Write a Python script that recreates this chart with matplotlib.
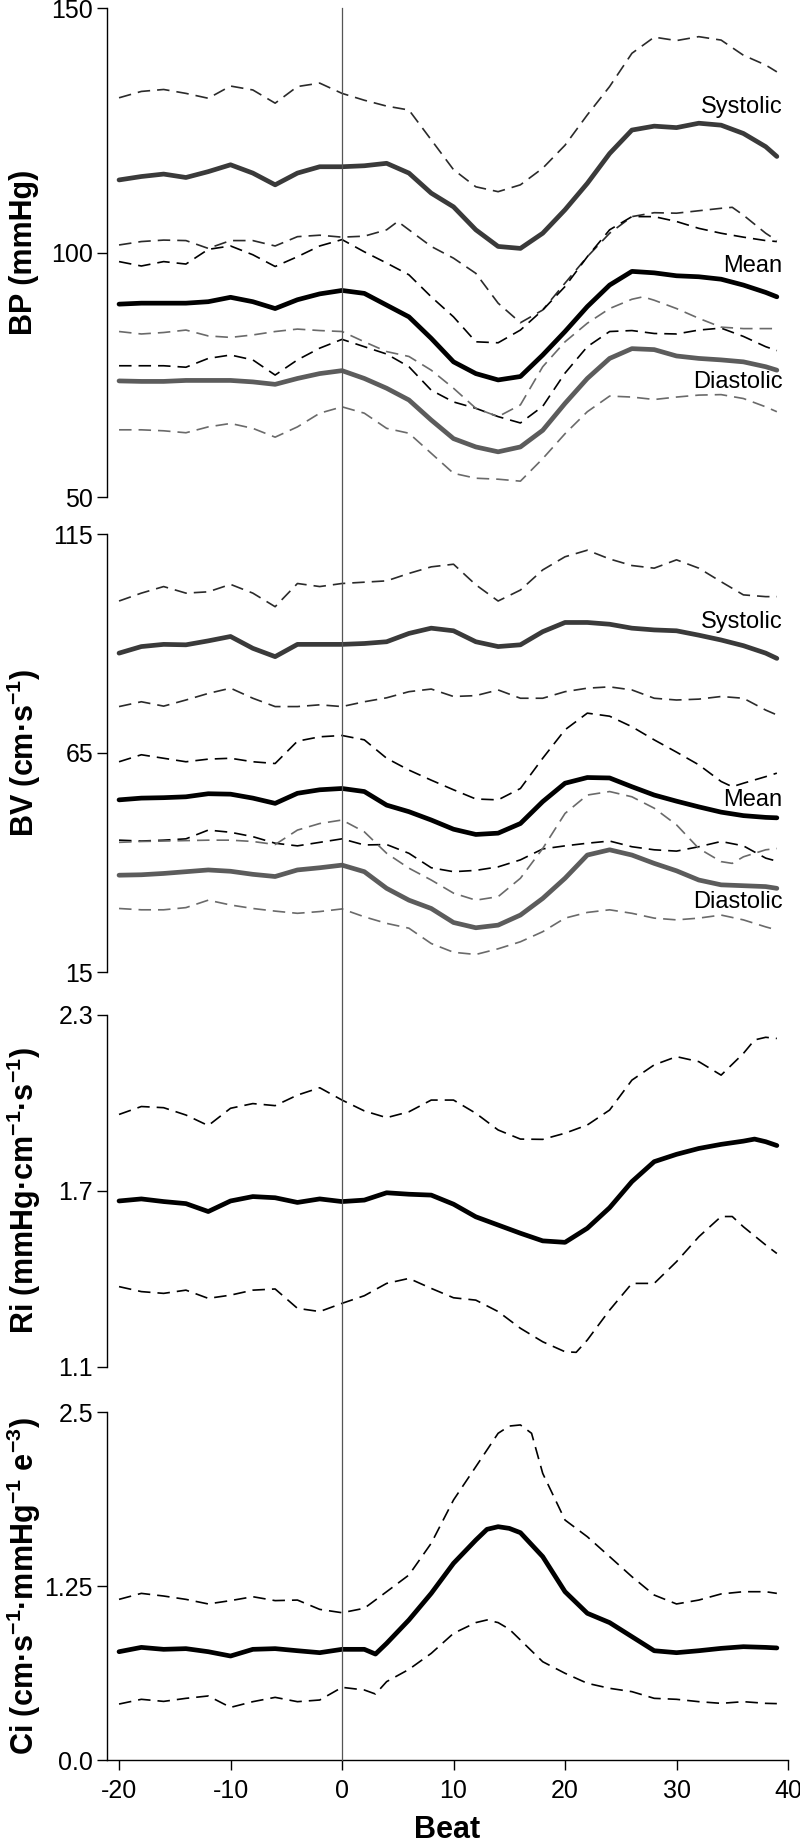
import matplotlib
matplotlib.use("Agg")
import matplotlib.pyplot as plt
from matplotlib.lines import Line2D
from matplotlib.transforms import blended_transform_factory

plt.rcParams['font.family'] = ['Liberation Sans', 'DejaVu Sans']
plt.rcParams['mathtext.default'] = 'regular'

# ---------------- data ----------------
beats = [-20, -18, -16, -14, -12, -10, -8, -6, -4, -2, 0, 2, 4, 6, 8, 10,
         12, 14, 16, 18, 20, 22, 24, 26, 28, 30, 32, 34, 36, 38, 39]

# Blood pressure (mmHg)
bp_sys = [114.9, 115.6, 116.1, 115.4, 116.6, 118.0, 116.3, 113.9, 116.3, 117.6, 117.6, 117.8, 118.3, 116.3, 112.2, 109.4,
          104.7, 101.3, 100.9, 104.0, 108.8, 114.2, 120.3, 125.1, 125.9, 125.6, 126.5, 126.1, 124.4, 121.7, 119.7]
bp_sys_hi = [131.7, 133.0, 133.4, 132.6, 131.6, 134.1, 133.3, 130.6, 134.0, 134.7, 132.6, 131.2, 130.0, 129.2, 123.1, 117.0,
             113.5, 112.5, 113.9, 117.3, 122.0, 128.2, 134.0, 140.8, 144.1, 143.4, 144.2, 143.5, 140.4, 138.4, 137.0]
bp_sys_lo_beats = [-20, -18, -16, -14, -12, -10, -8, -6, -4, -2, 0, 2, 4, 5, 6, 8, 10,
                   12, 14, 16, 18, 20, 22, 24, 26, 28, 30, 32, 34, 35, 36, 38, 39]
bp_sys_lo = [101.6, 102.3, 102.6, 102.5, 100.9, 102.5, 102.5, 101.4, 103.3, 103.6, 103.2, 103.4, 104.7, 106.4, 104.7, 101.3, 98.9,
             95.8, 89.7, 85.7, 88.3, 93.8, 99.2, 104.0, 107.4, 108.2, 108.1, 108.6, 109.1, 109.3, 107.7, 104.0, 102.5]
bp_mean = [89.5, 89.7, 89.7, 89.7, 90.0, 90.9, 90.0, 88.6, 90.4, 91.6, 92.3, 91.7, 89.3, 86.9, 82.5, 77.7,
           75.3, 74.0, 74.7, 79.1, 83.9, 89.0, 93.4, 96.2, 95.9, 95.3, 95.1, 94.6, 93.4, 91.9, 91.0]
bp_mean_hi = [98.2, 97.3, 98.2, 97.7, 100.7, 101.4, 99.6, 97.2, 99.2, 101.4, 102.7, 100.2, 97.9, 95.5, 91.0, 86.9,
              81.8, 81.6, 84.2, 88.3, 93.1, 99.2, 104.7, 107.4, 107.4, 106.4, 105.0, 104.0, 103.2, 102.5, 102.3]
bp_mean_lo = [76.9, 76.9, 76.9, 76.6, 78.4, 79.1, 78.1, 75.0, 78.1, 80.5, 82.3, 80.8, 79.3, 76.7, 71.9, 69.5,
              68.2, 66.5, 65.2, 68.6, 75.4, 80.8, 83.9, 84.1, 83.5, 83.4, 84.2, 84.6, 82.9, 80.8, 80.0]
bp_dia = [73.8, 73.7, 73.7, 73.9, 73.9, 73.9, 73.6, 73.1, 74.3, 75.3, 75.9, 74.3, 72.3, 69.9, 65.8, 62.0,
          60.3, 59.3, 60.3, 63.7, 69.2, 74.3, 78.4, 80.4, 80.2, 78.9, 78.4, 78.1, 77.7, 76.7, 76.0]
bp_dia_hi_beats = [-20, -18, -16, -14, -12, -10, -8, -6, -4, -2, 0, 2, 4, 6, 8, 10,
                   12, 14, 16, 18, 20, 22, 24, 26, 27, 28, 30, 32, 34, 36, 38, 39]
bp_dia_hi = [83.9, 83.4, 83.7, 84.2, 83.0, 82.7, 83.2, 83.9, 84.4, 84.1, 83.9, 81.8, 79.8, 78.8, 76.0, 72.3,
             68.2, 66.5, 68.9, 76.7, 81.8, 85.6, 88.6, 90.5, 91.0, 90.3, 88.6, 86.6, 84.8, 84.5, 84.5, 84.5]
bp_dia_lo = [63.8, 63.8, 63.6, 63.2, 64.4, 65.1, 64.1, 62.3, 64.4, 67.2, 68.5, 67.2, 64.1, 63.1, 59.0, 54.9,
             53.9, 53.7, 53.3, 57.9, 63.0, 67.5, 70.7, 70.5, 70.0, 70.5, 70.9, 71.0, 70.2, 68.5, 67.5]

# Blood velocity (cm/s)
bv_sys = [87.8, 89.3, 89.8, 89.7, 90.6, 91.6, 88.9, 87.0, 89.8, 89.8, 89.8, 90.0, 90.4, 92.3, 93.5, 92.9,
          90.4, 89.3, 89.7, 92.7, 94.8, 94.8, 94.4, 93.5, 93.1, 92.9, 91.9, 90.8, 89.5, 87.8, 86.6]
bv_sys_hi = [99.7, 101.5, 103.0, 101.5, 101.8, 103.5, 101.5, 98.4, 103.7, 103.0, 103.7, 104.0, 104.3, 106.0, 107.5, 108.1,
             103.4, 99.7, 102.2, 106.8, 109.8, 111.3, 109.3, 107.8, 107.2, 109.1, 107.2, 104.1, 101.1, 100.7, 100.7]
bv_sys_lo = [75.6, 76.7, 75.7, 77.1, 78.6, 79.8, 77.5, 75.6, 75.6, 76.0, 75.6, 76.7, 77.6, 79.0, 79.6, 77.9,
             78.1, 79.4, 77.5, 77.5, 79.0, 79.8, 80.1, 79.4, 77.5, 77.1, 77.3, 77.9, 77.5, 74.8, 73.7]
bv_mean = [54.3, 54.7, 54.8, 55.0, 55.7, 55.6, 54.7, 53.5, 55.8, 56.6, 56.9, 56.2, 53.1, 51.6, 49.7, 47.6,
           46.4, 46.7, 48.9, 53.9, 58.1, 59.4, 59.3, 57.3, 55.4, 54.0, 52.7, 51.5, 50.7, 50.3, 50.2]
bv_mean_hi_beats = [-20, -18, -16, -14, -12, -10, -8, -6, -4, -2, 0, 2, 4, 6, 8, 10,
                    12, 14, 16, 18, 20, 22, 24, 26, 28, 30, 32, 34, 35, 36, 38, 39]
bv_mean_hi = [63.0, 64.6, 63.8, 63.0, 63.6, 63.8, 63.0, 62.6, 67.7, 68.7, 69.0, 68.0, 63.8, 61.1, 58.8, 56.6,
              54.5, 54.3, 56.9, 63.8, 70.3, 74.1, 73.4, 71.0, 68.0, 65.2, 62.3, 58.5, 57.3, 58.1, 59.6, 60.4]
bv_mean_lo = [45.1, 44.9, 45.1, 45.4, 47.4, 46.9, 45.9, 44.4, 43.8, 44.6, 45.4, 44.0, 44.1, 42.1, 38.8, 37.9,
              38.2, 39.0, 40.6, 43.1, 43.8, 44.4, 44.9, 43.6, 42.9, 42.6, 43.6, 44.8, 43.8, 41.0, 40.3]
bv_dia = [37.1, 37.2, 37.5, 37.9, 38.3, 38.0, 37.3, 36.8, 38.3, 38.8, 39.4, 37.9, 34.1, 31.4, 29.5, 26.3,
          25.1, 25.7, 28.0, 31.8, 36.4, 41.7, 42.9, 41.7, 39.8, 38.1, 36.0, 34.9, 34.7, 34.5, 34.1]
bv_dia_hi_beats = bv_mean_hi_beats
bv_dia_hi = [44.6, 44.8, 44.9, 45.0, 45.1, 45.1, 44.8, 44.1, 47.4, 48.9, 49.7, 47.0, 42.1, 38.7, 36.0, 33.0,
             31.4, 32.2, 36.4, 43.2, 51.2, 55.4, 56.2, 55.0, 52.4, 48.6, 43.2, 40.2, 39.8, 41.3, 42.9, 43.2]
bv_dia_lo = [29.5, 29.2, 29.2, 29.7, 31.4, 30.3, 29.5, 28.9, 28.4, 28.8, 29.4, 27.6, 26.1, 25.0, 21.5, 19.5,
             19.0, 20.3, 21.9, 24.2, 27.3, 28.6, 29.2, 28.4, 27.3, 26.9, 27.3, 28.0, 26.9, 25.3, 24.6]

# Resistance index
ri_beats = [-20, -18, -16, -14, -12, -10, -8, -6, -4, -2, 0, 2, 4, 6, 8, 10,
            12, 14, 16, 18, 20, 22, 24, 26, 28, 30, 32, 34, 36, 37, 38, 39]
ri_mean = [1.666, 1.673, 1.664, 1.657, 1.630, 1.666, 1.681, 1.677, 1.661, 1.673, 1.664, 1.669, 1.694, 1.689, 1.686, 1.655,
           1.612, 1.584, 1.556, 1.530, 1.525, 1.573, 1.643, 1.732, 1.800, 1.825, 1.845, 1.859, 1.870, 1.877, 1.868, 1.855]
ri_hi = [1.961, 1.988, 1.984, 1.959, 1.923, 1.982, 1.998, 1.991, 2.027, 2.052, 2.010, 1.973, 1.950, 1.970, 2.010, 2.010,
         1.965, 1.908, 1.877, 1.876, 1.897, 1.925, 1.976, 2.078, 2.130, 2.158, 2.141, 2.095, 2.169, 2.215, 2.224, 2.220]
ri_lo_beats = [-20, -18, -16, -14, -12, -10, -8, -6, -4, -2, 0, 2, 4, 6, 8, 10,
               12, 14, 16, 18, 20, 21, 22, 24, 26, 28, 30, 32, 34, 35, 36, 38, 39]
ri_lo = [1.374, 1.357, 1.351, 1.362, 1.334, 1.345, 1.362, 1.366, 1.300, 1.289, 1.317, 1.343, 1.385, 1.402, 1.368, 1.336,
         1.328, 1.289, 1.232, 1.186, 1.152, 1.150, 1.192, 1.294, 1.385, 1.385, 1.459, 1.544, 1.613, 1.613, 1.578, 1.516, 1.487]

# Compliance index
ci_beats = [-20, -18, -16, -14, -12, -10, -8, -6, -4, -2, 0, 2, 3, 4, 6, 8, 10,
            12, 13, 14, 15, 16, 18, 20, 22, 24, 26, 28, 30, 32, 34, 36, 38, 39]
ci_mean = [0.778, 0.809, 0.795, 0.800, 0.778, 0.747, 0.795, 0.800, 0.785, 0.771, 0.795, 0.795, 0.761, 0.838, 1.006, 1.197, 1.413,
           1.580, 1.657, 1.676, 1.664, 1.633, 1.461, 1.209, 1.054, 0.987, 0.886, 0.785, 0.771, 0.785, 0.802, 0.814, 0.809, 0.805]
ci_lo = [0.402, 0.436, 0.421, 0.443, 0.460, 0.378, 0.419, 0.450, 0.419, 0.431, 0.522, 0.503, 0.474, 0.563, 0.651, 0.766, 0.910,
         0.987, 1.006, 0.987, 0.940, 0.862, 0.706, 0.623, 0.551, 0.515, 0.491, 0.443, 0.436, 0.419, 0.407, 0.419, 0.407, 0.405]
ci_hi_beats = [-20, -18, -16, -14, -12, -10, -8, -6, -4, -2, 0, 2, 4, 6, 8, 10,
               12, 14, 15, 16, 17, 18, 20, 22, 24, 26, 28, 30, 32, 34, 36, 38, 39]
ci_hi = [1.154, 1.197, 1.178, 1.154, 1.121, 1.145, 1.173, 1.145, 1.149, 1.082, 1.058, 1.090, 1.209, 1.329, 1.557, 1.868,
         2.107, 2.347, 2.399, 2.407, 2.347, 2.059, 1.724, 1.604, 1.461, 1.317, 1.185, 1.121, 1.149, 1.193, 1.209, 1.209, 1.197]

x_ticks = [-20, -10, 0, 10, 20, 30, 40]

# ---------------- styling ----------------
FIG_W, FIG_H = 800, 1843
fig = plt.figure(figsize=(FIG_W / 100, FIG_H / 100), dpi=100)

LEFT_PX, RIGHT_PX = 107, 788
XLIM = (-21.08, 40)


def make_ax(top_px, bot_px):
    return fig.add_axes([LEFT_PX / FIG_W, 1 - bot_px / FIG_H,
                         (RIGHT_PX - LEFT_PX) / FIG_W, (bot_px - top_px) / FIG_H])


C_SYS, C_MEAN, C_DIA = '#3a3a3a', '#000000', '#5c5c5c'
C_SYS_D, C_MEAN_D, C_DIA_D = '#2a2a2a', '#000000', '#6a6a6a'
THICK = 3.4
DASH_LW = 1.2
DASH = (7.5, 4.2)
TICK_FS = 18
LABEL_FS = 22
TAG_FS = 17


def solid(ax, x, y, c):
    ax.plot(x, y, color=c, lw=THICK, solid_capstyle='round', solid_joinstyle='round', zorder=3)


def dashed(ax, x, y, c):
    ax.plot(x, y, color=c, lw=DASH_LW, dashes=DASH, zorder=2)


def style(ax, ylim, yticks, yticklabels, label, bottom=False):
    ax.set_xlim(*XLIM)
    ax.set_ylim(*ylim)
    for s in ['top', 'right']:
        ax.spines[s].set_visible(False)
    ax.spines['left'].set_linewidth(1.0)
    ax.set_yticks(yticks)
    ax.set_yticklabels(yticklabels)
    ax.tick_params(axis='y', direction='out', length=7, width=1.0, labelsize=TICK_FS, pad=3)
    if bottom:
        ax.spines['bottom'].set_linewidth(1.0)
        ax.set_xticks(x_ticks)
        ax.set_xticklabels([str(t) for t in x_ticks])
        ax.tick_params(axis='x', direction='out', length=7, width=1.0, labelsize=TICK_FS, pad=7)
        ax.set_xlabel('Beat', fontsize=LABEL_FS, fontweight='bold', labelpad=8)
    else:
        ax.spines['bottom'].set_visible(False)
        ax.set_xticks([])
    ax.set_ylabel(label, fontsize=LABEL_FS, fontweight='bold')
    ax.yaxis.label.set_verticalalignment('center')
    ax.yaxis.set_label_coords((24 - LEFT_PX) / (RIGHT_PX - LEFT_PX), 0.5)
    ax.patch.set_visible(False)


def tag(ax, y, text):
    ax.text(39.5, y, text, ha='right', va='center', fontsize=TAG_FS, color='black', zorder=5)


# Panel 1: BP
ax1 = make_ax(8.3, 497.3)
dashed(ax1, beats, bp_sys_hi, C_SYS_D)
dashed(ax1, bp_sys_lo_beats, bp_sys_lo, C_SYS_D)
dashed(ax1, beats, bp_mean_hi, C_MEAN_D)
dashed(ax1, beats, bp_mean_lo, C_MEAN_D)
dashed(ax1, bp_dia_hi_beats, bp_dia_hi, C_DIA_D)
dashed(ax1, beats, bp_dia_lo, C_DIA_D)
solid(ax1, beats, bp_sys, C_SYS)
solid(ax1, beats, bp_mean, C_MEAN)
solid(ax1, beats, bp_dia, C_DIA)
style(ax1, (50, 150), [50, 100, 150], ['50', '100', '150'], 'BP (mmHg)')
tag(ax1, 129.8, 'Systolic')
tag(ax1, 97.3, 'Mean')
tag(ax1, 73.5, 'Diastolic')

# Panel 2: BV
ax2 = make_ax(534, 972)
dashed(ax2, beats, bv_sys_hi, C_SYS_D)
dashed(ax2, beats, bv_sys_lo, C_SYS_D)
dashed(ax2, bv_mean_hi_beats, bv_mean_hi, C_MEAN_D)
dashed(ax2, beats, bv_mean_lo, C_MEAN_D)
dashed(ax2, bv_dia_hi_beats, bv_dia_hi, C_DIA_D)
dashed(ax2, beats, bv_dia_lo, C_DIA_D)
solid(ax2, beats, bv_sys, C_SYS)
solid(ax2, beats, bv_mean, C_MEAN)
solid(ax2, beats, bv_dia, C_DIA)
style(ax2, (15, 115), [15, 65, 115], ['15', '65', '115'], r'BV (cm·s$^{-1}$)')
tag(ax2, 94.9, 'Systolic')
tag(ax2, 54.3, 'Mean')
tag(ax2, 31.0, 'Diastolic')

# Panel 3: Ri
ax3 = make_ax(1015, 1367)
dashed(ax3, ri_beats, ri_hi, C_MEAN_D)
dashed(ax3, ri_lo_beats, ri_lo, C_MEAN_D)
solid(ax3, ri_beats, ri_mean, C_MEAN)
style(ax3, (1.1, 2.3), [1.1, 1.7, 2.3], ['1.1', '1.7', '2.3'], r'Ri (mmHg·cm$^{-1}$·s$^{-1}$)')

# Panel 4: Ci
ax4 = make_ax(1412, 1760)
dashed(ax4, ci_hi_beats, ci_hi, C_MEAN_D)
dashed(ax4, ci_beats, ci_lo, C_MEAN_D)
solid(ax4, ci_beats, ci_mean, C_MEAN)
style(ax4, (0, 2.5), [0, 1.25, 2.5], ['0.0', '1.25', '2.5'],
      r'Ci (cm·s$^{-1}$·mmHg$^{-1}$ e$^{-3}$)', bottom=True)
ax4.spines['bottom'].set_bounds(XLIM[0], 40)

# vertical line at beat 0 spanning all panels
trans = blended_transform_factory(ax4.transData, fig.transFigure)
fig.add_artist(Line2D([0, 0], [1 - 8 / FIG_H, 1 - 1760 / FIG_H], transform=trans,
                      color='#555555', lw=0.9, zorder=1))

fig.savefig('out.png', dpi=100)
